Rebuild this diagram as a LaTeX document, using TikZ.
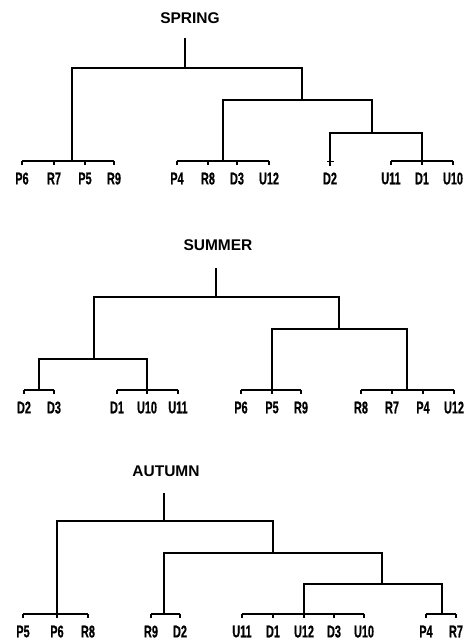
\documentclass[tikz,border=0pt]{standalone}
\usepackage{fontspec}
\newfontfamily\lblfamily[FakeStretch=0.64,FakeBold=0.6]{Liberation Sans}
\newfontfamily\ttlfamily{Liberation Sans}
\newcommand\mkleaf[4]{%
  \coordinate (#1) at (#2,#3);
  \node[lbl] (#1L) at (#2,#3+11) {#4};
  \draw[tick] (#1) -- (#1L.north);}
\begin{document}
\begin{tikzpicture}[x=1pt,y=-1pt,
  line width=1.1pt,
  lbl/.style={anchor=north,inner sep=0pt,font=\lblfamily\bfseries\fontsize{17}{19}\selectfont},
  ttl/.style={inner sep=0pt,font=\ttlfamily\bfseries\fontsize{15.5}{17}\selectfont},
  tick/.style={shorten >=7pt},
  br/.style={line cap=rect}]
\useasboundingbox (0,0) rectangle (465,641);
% ---------------- SPRING ----------------
\node[ttl] (sT) at (190,18) {SPRING};
\coordinate (sRt) at (185,38); \coordinate (sRb) at (185,68);
\coordinate (sAt) at (72,68);  \coordinate (sAb) at (72,161);
\coordinate (sBt) at (302,68); \coordinate (sBb) at (302,100);
\coordinate (sCt) at (223,100);\coordinate (sCb) at (223,161);
\coordinate (sDt) at (372,100);\coordinate (sDb) at (372,133);
\coordinate (sFt) at (330,133);\coordinate (sFb) at (330,165);
\coordinate (sEt) at (422,133);\coordinate (sEb) at (422,161);
\draw (sRt) -- (sRb);
\draw[br] (sAb) -- (sAt) -- (sBt) -- (sBb);
\draw[br] (sCb) -- (sCt) -- (sDt) -- (sDb);
\draw[br] (sFb) -- (sFt) -- (sEt) -- (sEb);
\coordinate (sFl) at (327,161); \coordinate (sFr) at (334,161);
\draw[line width=0.9pt] (sFl) -- (sFr);
\mkleaf{sP6}{22}{161}{P6}
\mkleaf{sR7}{54}{161}{R7}
\mkleaf{sP5}{85}{161}{P5}
\mkleaf{sR9}{114}{161}{R9}
\draw (sP6) -- (sR9);
\mkleaf{sP4}{177}{161}{P4}
\mkleaf{sR8}{208}{161}{R8}
\mkleaf{sD3}{237}{161}{D3}
\mkleaf{sU12}{269}{161}{U12}
\draw (sP4) -- (sU12);
\node[lbl] (sD2L) at (330,172) {D2};
\mkleaf{sU11}{391}{161}{U11}
\mkleaf{sD1}{422}{161}{D1}
\mkleaf{sU10}{453}{161}{U10}
\draw (sU11) -- (sU10);
% ---------------- SUMMER ----------------
\node[ttl] (uT) at (218,245) {SUMMER};
\coordinate (uRt) at (216,268); \coordinate (uRb) at (216,297);
\coordinate (uAt) at (94,297);  \coordinate (uAb) at (94,359);
\coordinate (uBt) at (339,297); \coordinate (uBb) at (339,329);
\coordinate (uCt) at (39,359);  \coordinate (uCb) at (39,390);
\coordinate (uDt) at (147,359); \coordinate (uDb) at (147,390);
\coordinate (uEt) at (272,329); \coordinate (uEb) at (272,390);
\coordinate (uFt) at (407,329); \coordinate (uFb) at (407,390);
\draw (uRt) -- (uRb);
\draw[br] (uAb) -- (uAt) -- (uBt) -- (uBb);
\draw[br] (uCb) -- (uCt) -- (uDt) -- (uDb);
\draw[br] (uEb) -- (uEt) -- (uFt) -- (uFb);
\mkleaf{uD2}{24}{390}{D2}
\mkleaf{uD3}{54}{390}{D3}
\draw (uD2) -- (uD3);
\mkleaf{uD1}{117}{390}{D1}
\mkleaf{uU10}{147}{390}{U10}
\mkleaf{uU11}{178}{390}{U11}
\draw (uD1) -- (uU11);
\mkleaf{uP6}{241}{390}{P6}
\mkleaf{uP5}{272}{390}{P5}
\mkleaf{uR9}{301}{390}{R9}
\draw (uP6) -- (uR9);
\mkleaf{uR8}{361}{390}{R8}
\mkleaf{uR7}{392}{390}{R7}
\mkleaf{uP4}{423}{390}{P4}
\mkleaf{uU12}{454}{390}{U12}
\draw (uR8) -- (uU12);
% ---------------- AUTUMN ----------------
\node[ttl] (aT) at (166,471) {AUTUMN};
\coordinate (aRt) at (164,493); \coordinate (aRb) at (164,521);
\coordinate (aAt) at (57,521);  \coordinate (aAb) at (57,614);
\coordinate (aBt) at (273,521); \coordinate (aBb) at (273,553);
\coordinate (aCt) at (164,553); \coordinate (aCb) at (164,614);
\coordinate (aDt) at (382,553); \coordinate (aDb) at (382,584);
\coordinate (aEt) at (304,584); \coordinate (aEb) at (304,614);
\coordinate (aFt) at (442,584); \coordinate (aFb) at (442,614);
\draw (aRt) -- (aRb);
\draw[br] (aAb) -- (aAt) -- (aBt) -- (aBb);
\draw[br] (aCb) -- (aCt) -- (aDt) -- (aDb);
\draw[br] (aEb) -- (aEt) -- (aFt) -- (aFb);
\mkleaf{aP5}{23}{614}{P5}
\mkleaf{aP6}{57}{614}{P6}
\mkleaf{aR8}{88}{614}{R8}
\draw (aP5) -- (aR8);
\mkleaf{aR9}{151}{614}{R9}
\mkleaf{aD2}{180}{614}{D2}
\draw (aR9) -- (aD2);
\mkleaf{aU11}{242}{614}{U11}
\mkleaf{aD1}{273}{614}{D1}
\mkleaf{aU12}{304}{614}{U12}
\mkleaf{aD3}{334}{614}{D3}
\mkleaf{aU10}{364}{614}{U10}
\draw (aU11) -- (aU10);
\mkleaf{aP4}{426}{614}{P4}
\mkleaf{aR7}{456}{614}{R7}
\draw (aP4) -- (aR7);
\end{tikzpicture}
\end{document}
